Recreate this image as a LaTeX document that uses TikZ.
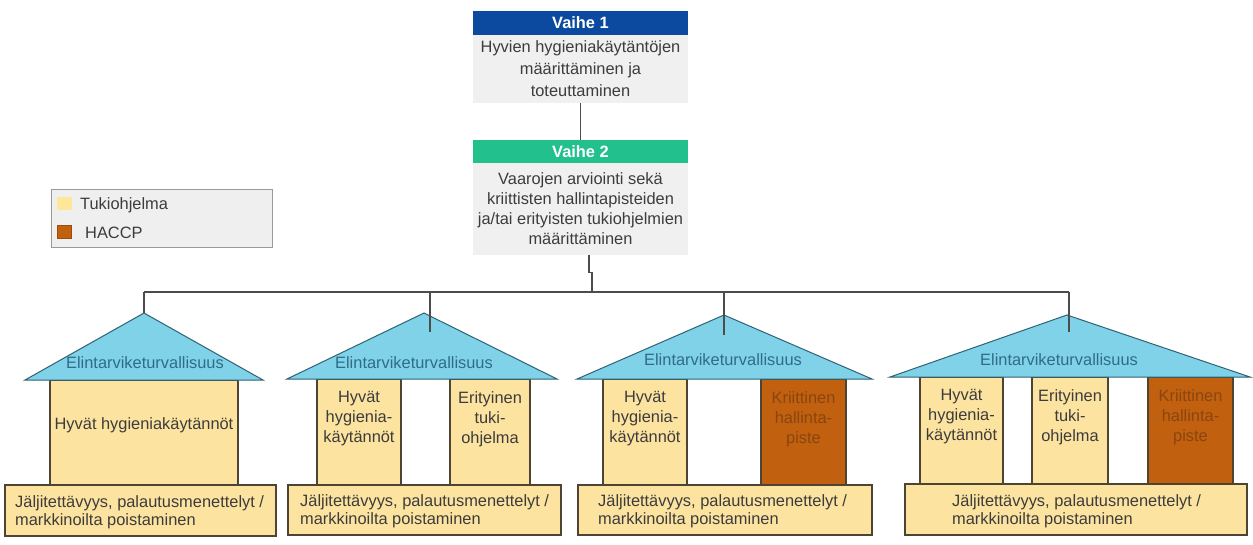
\documentclass[tikz,border=0pt]{standalone}
\usepackage{fontspec}
\setmainfont{Liberation Sans}
\usetikzlibrary{calc}
\definecolor{hdrblue}{HTML}{0B4A9E}
\definecolor{hdrgreen}{HTML}{22C08C}
\definecolor{boxgray}{HTML}{F0F0F0}
\definecolor{roofblue}{HTML}{80D2E8}
\definecolor{roofedge}{HTML}{2E6274}
\definecolor{yel}{HTML}{FDE3A0}
\definecolor{legyel}{HTML}{FFE79A}
\definecolor{brn}{HTML}{C1600F}
\definecolor{brntxt}{HTML}{8A4510}
\definecolor{edge}{HTML}{4D4433}
\definecolor{txt}{HTML}{3C3C3C}
\definecolor{rooftxt}{HTML}{2F6C88}
\definecolor{leggray}{HTML}{EFEFEF}
\begin{document}
\begin{tikzpicture}[x=1pt,y=-1pt,
  font=\fontsize{16.4}{20}\selectfont,
  hdr/.style={minimum width=215pt, inner sep=0pt, text=white, font=\fontsize{16.4}{20}\selectfont\bfseries},
  graybox/.style={fill=boxgray, minimum width=215pt, inner sep=0pt, text=txt, align=center},
  conn/.style={draw=black!70, line width=1.1pt},
  roof/.style={fill=roofblue, draw=roofedge, line width=1pt, line join=miter},
  pillar/.style={fill=yel, draw=edge, line width=1.2pt, inner sep=0pt},
  haccp/.style={pillar, fill=brn},
  basebox/.style={fill=yel, draw=edge, line width=1.2pt, inner sep=0pt},
  ptext/.style={align=center, text=txt, inner sep=0pt, anchor=north, font=\fontsize{16.4}{20}\selectfont},
  htext/.style={ptext, text=brntxt},
  btext/.style={align=left, text=txt, inner sep=0pt, anchor=west, font=\fontsize{16.4}{18}\selectfont},
  rtext/.style={text=rooftxt, inner sep=0pt}
]
\path[use as bounding box] (0,0) rectangle (1253,544);

% Legend
\node[draw=black!40, fill=leggray, line width=0.8pt, minimum width=221pt, minimum height=58pt, inner sep=0pt] (legend) at (161.5,218) {};
\node[fill=legyel, minimum width=15pt, minimum height=13pt, inner sep=0pt] (legy) at (64.5,203.5) {};
\node[fill=brn, draw=brn!80!black, line width=0.6pt, minimum width=14pt, minimum height=13pt, inner sep=0pt] (legb) at (64.5,232) {};
\node[anchor=west, inner sep=0pt, text=txt] (legyt) at (80,205) {Tukiohjelma};
\node[anchor=west, inner sep=0pt, text=txt] (legbt) at (85,233) {HACCP};

% Vaihe 1
\node[hdr, fill=hdrblue, minimum height=24pt] (v1h) at (580.5,23) {Vaihe 1};
\node[graybox, minimum height=68pt, font=\fontsize{16.4}{22}\selectfont] (v1b) at (580.5,69) {Hyvien hygieniakäytäntöjen\\määrittäminen ja\\toteuttaminen};
% Vaihe 2
\node[hdr, fill=hdrgreen, minimum height=23pt] (v2h) at (580.5,151.5) {Vaihe 2};
\node[graybox, minimum height=92pt, font=\fontsize{16.4}{20}\selectfont] (v2b) at (580.5,209) {Vaarojen arviointi sekä\\kriittisten hallintapisteiden\\ja/tai erityisten tukiohjelmien\\määrittäminen};

\draw[conn] (v1b.south) -- (v2h.north);

% Bus
\coordinate (bus1) at (144,292);
\coordinate (bus2) at (430,292);
\coordinate (bus3) at (724,292);
\coordinate (bus4) at (1069,292);
\coordinate (busj) at (592,292);
\draw[conn] ($(v2b.south)+(8.5,0)$) -- ++(0,17) -- ++(3,0) -- (busj);
\draw[conn] (bus1) -- (bus4);

% ---------- House 1
\node[pillar, minimum width=188pt, minimum height=105pt] (h1p1) at (144,432.5) {};
\node[text=txt, inner sep=0pt] (h1p1t) at (144,425) {Hyvät hygieniakäytännöt};
\coordinate (r1a) at (144,313);
\coordinate (r1l) at (25,380);
\coordinate (r1r) at (263,380);
\draw[roof] (r1l) -- (r1a) -- (r1r) -- cycle;
\node[rtext] (r1t) at (145,363) {Elintarviketurvallisuus};
\node[basebox, minimum width=271pt, minimum height=51pt] (h1b) at (140.5,510.5) {};
\node[btext] (h1bt) at (15,512) {Jäljitettävyys, palautusmenettelyt /\\markkinoilta poistaminen};
\draw[conn] (bus1) -- (r1a);

% ---------- House 2
\node[pillar, minimum width=84pt, minimum height=106pt] (h2p1) at (359,432) {};
\node[pillar, minimum width=80pt, minimum height=106pt] (h2p2) at (490,432) {};
\node[ptext] (h2p1t) at (359,391) {Hyvät\\hygienia-\\käytännöt};
\node[ptext] (h2p2t) at (490,391) {Erityinen\\tuki-\\ohjelma};
\coordinate (r2a) at (424,313);
\coordinate (r2l) at (287,379);
\coordinate (r2r) at (557,379);
\draw[roof] (r2l) -- (r2a) -- (r2r) -- cycle;
\node[rtext] (r2t) at (414,363) {Elintarviketurvallisuus};
\node[basebox, minimum width=273pt, minimum height=50pt] (h2b) at (424.5,510) {};
\node[btext] (h2bt) at (300,511) {Jäljitettävyys, palautusmenettelyt /\\markkinoilta poistaminen};
\draw[conn] (bus2) -- ($(bus2)+(0,40)$);

% ---------- House 3
\node[pillar, minimum width=84pt, minimum height=106pt] (h3p1) at (645,432) {};
\node[haccp, minimum width=85pt, minimum height=106pt] (h3p2) at (803.5,432) {};
\node[ptext] (h3p1t) at (645,391) {Hyvät\\hygienia-\\käytännöt};
\node[htext] (h3p2t) at (803.5,391) {Kriittinen\\hallinta-\\piste};
\coordinate (r3a) at (724,315);
\coordinate (r3l) at (577,379);
\coordinate (r3r) at (872,379);
\draw[roof] (r3l) -- (r3a) -- (r3r) -- cycle;
\node[rtext] (r3t) at (723,360) {Elintarviketurvallisuus};
\node[basebox, minimum width=294pt, minimum height=50pt] (h3b) at (725,510) {};
\node[btext] (h3bt) at (598,511) {Jäljitettävyys, palautusmenettelyt /\\markkinoilta poistaminen};
\draw[conn] (bus3) -- ($(bus3)+(0,43)$);

% ---------- House 4
\node[pillar, minimum width=83pt, minimum height=107pt] (h4p1) at (961.5,430.5) {};
\node[pillar, minimum width=76pt, minimum height=107pt] (h4p2) at (1070,430.5) {};
\node[haccp, minimum width=85pt, minimum height=107pt] (h4p3) at (1190.5,430.5) {};
\node[ptext] (h4p1t) at (961.5,389) {Hyvät\\hygienia-\\käytännöt};
\node[ptext] (h4p2t) at (1070,389) {Erityinen\\tuki-\\ohjelma};
\node[htext] (h4p3t) at (1190.5,389) {Kriittinen\\hallinta-\\piste};
\coordinate (r4a) at (1067,315);
\coordinate (r4l) at (890,377);
\coordinate (r4r) at (1250,377);
\draw[roof] (r4l) -- (r4a) -- (r4r) -- cycle;
\node[rtext] (r4t) at (1059,360) {Elintarviketurvallisuus};
\node[basebox, minimum width=342pt, minimum height=51pt] (h4b) at (1076,509.5) {};
\node[btext] (h4bt) at (952,511) {Jäljitettävyys, palautusmenettelyt /\\markkinoilta poistaminen};
\draw[conn] (bus4) -- ($(bus4)+(0,40)$);
\end{tikzpicture}
\end{document}
